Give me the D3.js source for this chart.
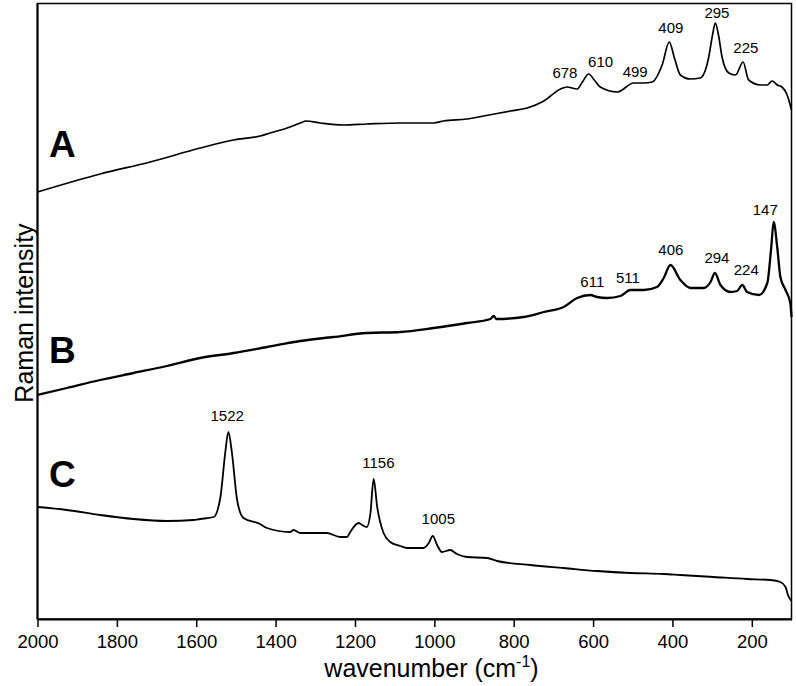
<html>
<head>
	<title>Raman spectra A B C</title>
	<style>
		body { margin: 0; background: #fff; }
		text { font-family: Arial, "Liberation Sans", sans-serif; }
		.trace { fill: none; stroke: #000; stroke-linejoin: round; }
	</style>
	<script type="text/javascript" src="https://d3js.org/d3.v7.min.js"></script>
</head>
<body>
<svg width="796" height="686"></svg>

<script>

	// spectrum A (wavenumber, intensity)
	var wnA  = [2000,1842,1716,1590,1506,1439,1414,1371,1338,1323,1287,1229,1170,1086,1002,977,918,876,808,766,724,682,666,640,627,611,597,582,539,498,472,451,426,408,395,380,355,330,309,299,292,284,275,258,241,222,208,178,161,149,136,124,111,100];
	var intA = [427,445,457,471,479,483,486,491,496,498,496,494,495,496,496,498,500,503,508,511,518,530,532,530,537,545,539,532,527,536,536,537,554,577,561,544,540,541,561,584,596,584,562,546,544,557,539,534,534,538,534,532,524,509];

	// spectrum B
	var wnB  = [2000,1926,1842,1758,1674,1590,1506,1422,1338,1254,1170,1086,1002,918,859,850,844,775,724,674,640,607,590,565,531,506,472,439,422,405,380,355,321,304,293,279,254,237,224,212,182,161,151,145,136,128,115,103,100];
	var intB = [224,231,239,246,253,261,266,272,278,282,286,287,291,296,300,303,300,302,307,312,321,324,322,321,323,329,329,332,341,354,339,331,331,337,346,334,327,328,334,327,324,336,372,397,372,342,329,316,302];

	// spectrum C
	var wnC  = [2000,1926,1842,1758,1674,1607,1590,1556,1539,1527,1519,1510,1497,1481,1439,1422,1363,1355,1338,1271,1237,1220,1212,1191,1182,1170,1161,1153,1144,1128,1111,1086,1069,1027,1014,1004,993,981,960,943,918,867,842,758,674,590,506,422,380,296,212,153,128,115,109,100];
	var intC = [112,109,104,100,98,99,100,102,122,166,187,166,119,101,95,91,87,89,86,86,82,82,87,96,94,92,106,140,112,86,77,73,71,71,76,83,74,67,69,65,62,61,58,54,51,48,46,45,44,42,40,39,37,32,24,18];

	// peak labels
	var peaksA = ["678","610","499","409","295","225"];
	var peakWnA = [671,581,494,404,288,215];
	var peakIntA = [541,552,542,586,601,566];

	var peaksB = ["611","511","406","294","224","147"];
	var peakWnB = [602,512,404,288,214,166];
	var peakIntB = [332,336,364,356,344,404];

	var peaksC = ["1522","1156","1005"];
	var peakWnC = [1522,1141,990];
	var peakIntC = [198,151,95];

	var xTicks = [2000,1800,1600,1400,1200,1000,800,600,400,200];

	var svg = d3.select("svg"),
		plotLeft = 37.5,
		plotRight = 791.5,
		plotTop = 3.5,
		plotBottom = 619;

	var xScale = d3.scaleLinear().domain([2000, 100]).range([plotLeft, plotRight]),
		yScale = d3.scaleLinear().domain([0, 615.5]).range([plotBottom, plotTop]);

	var line = d3.line()
		.x(function(d) { return xScale(d[0]); })
		.y(function(d) { return yScale(d[1]); })
		.curve(d3.curveMonotoneX);

	// frame
	svg.append("rect")
	   .attr("x", plotLeft)
	   .attr("y", plotTop)
	   .attr("width", plotRight - plotLeft)
	   .attr("height", plotBottom - plotTop)
	   .attr("fill", "none")
	   .attr("stroke", "#000")
	   .attr("stroke-width", 1.5);

	// left axis line (a bit heavier)
	svg.append("line")
	   .attr("x1", plotLeft).attr("x2", plotLeft)
	   .attr("y1", plotTop).attr("y2", plotBottom)
	   .attr("stroke", "#000")
	   .attr("stroke-width", 2);

	// bottom axis
	var xAxis = svg.append("g")
	   .attr("transform", "translate(0," + plotBottom + ")")
	   .call(d3.axisBottom(xScale)
	       .tickValues(xTicks)
	       .tickFormat(d3.format("d"))
	       .tickSize(8)
	       .tickSizeOuter(0)
	       .tickPadding(8));

	xAxis.select(".domain").attr("stroke-width", 2);
	xAxis.selectAll(".tick line").attr("stroke-width", 1.5);
	xAxis.selectAll(".tick text")
	     .attr("font-size", "18.5px")
	     .attr("font-family", "Arial, 'Liberation Sans', sans-serif")
	     .attr("fill", "#000");

	// axis titles
	var xt = svg.append("text")
	   .attr("x", 431.5)
	   .attr("y", 676.7)
	   .attr("text-anchor", "middle")
	   .attr("font-size", "25px")
	   .text("wavenumber (cm");
	xt.append("tspan")
	  .attr("font-size", "16px")
	  .attr("dy", "-10")
	  .text("-1");
	xt.append("tspan")
	  .attr("dy", "10")
	  .text(")");

	svg.append("text")
	   .attr("transform", "translate(33,313) rotate(-90)")
	   .attr("text-anchor", "middle")
	   .attr("font-size", "25px")
	   .text("Raman intensity");

	// spectra
	var traces = [
		{ wn: wnA, val: intA, w: 1.7 },
		{ wn: wnB, val: intB, w: 2.3 },
		{ wn: wnC, val: intC, w: 1.8 }
	];

	traces.forEach(function(t) {
		svg.append("path")
		   .datum(t.wn.map(function(w, i) { return [w, t.val[i]]; }))
		   .attr("class", "trace")
		   .attr("stroke-width", t.w)
		   .attr("d", line);
	});

	// panel letters
	var letters = ["A", "B", "C"],
		letterY = [157, 363, 487];

	svg.selectAll(".letter")
	   .data(letters)
	   .enter().append("text")
	   .attr("class", "letter")
	   .attr("x", 49)
	   .attr("y", function(d, i) { return letterY[i]; })
	   .attr("font-size", "37px")
	   .attr("font-weight", "bold")
	   .text(function(d) { return d; });

	// peak labels
	function addPeaks(names, wns, ints) {
		svg.selectAll(null)
		   .data(names)
		   .enter().append("text")
		   .attr("x", function(d, i) { return xScale(wns[i]); })
		   .attr("y", function(d, i) { return yScale(ints[i]); })
		   .attr("text-anchor", "middle")
		   .attr("font-size", "15px")
		   .text(function(d) { return d; });
	}

	addPeaks(peaksA, peakWnA, peakIntA);
	addPeaks(peaksB, peakWnB, peakIntB);
	addPeaks(peaksC, peakWnC, peakIntC);

</script>
</body>
</html>
